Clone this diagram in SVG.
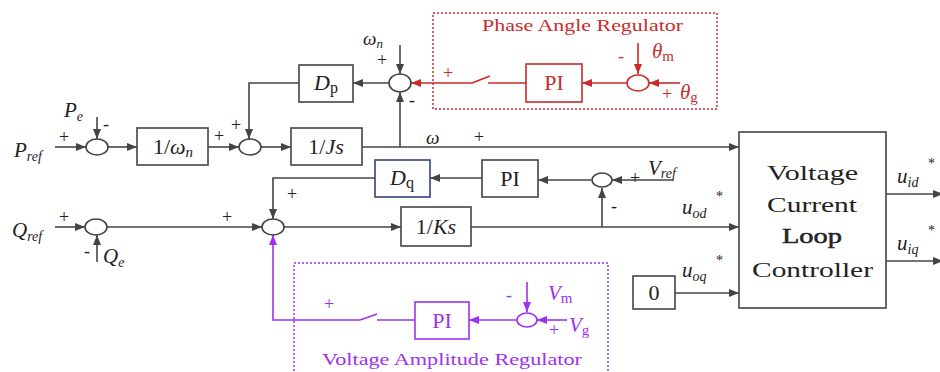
<svg xmlns="http://www.w3.org/2000/svg" width="940" height="372" viewBox="0 0 940 372">
<style>
.ln{fill:none;stroke:#444;stroke-width:1.6}
.lr{fill:none;stroke:#cc2a2a;stroke-width:1.6}
.lp{fill:none;stroke:#a030f0;stroke-width:1.6}
.box{fill:#fff;stroke:#444;stroke-width:1.6}
.sum{fill:#fff;stroke:#444;stroke-width:1.6}
.t{font-family:"Liberation Serif",serif;fill:#222}
.i{font-style:italic}
.big{font-size:21px}
.pm{font-family:"Liberation Serif",serif;font-size:18px;fill:#222}
.red{fill:#cc2a2a}
.pur{fill:#a030f0}
</style>
<defs>
<marker id="ag" markerUnits="userSpaceOnUse" markerWidth="10" markerHeight="8" refX="10" refY="4" orient="auto"><path d="M0,0 L10,4 L0,8 z" fill="#444"/></marker>
<marker id="ar" markerUnits="userSpaceOnUse" markerWidth="10" markerHeight="8" refX="10" refY="4" orient="auto"><path d="M0,0 L10,4 L0,8 z" fill="#cc2a2a"/></marker>
<marker id="ap" markerUnits="userSpaceOnUse" markerWidth="10" markerHeight="8" refX="10" refY="4" orient="auto"><path d="M0,0 L10,4 L0,8 z" fill="#a030f0"/></marker>
</defs>
<rect width="940" height="372" fill="#fff"/>

<g id="phase-frame">
<rect x="433" y="13" width="284" height="96" fill="none" stroke="#cc2a2a" stroke-width="1.5" stroke-dasharray="2,2"/>
<text x="482" y="31" class="t red" font-size="17" textLength="201" lengthAdjust="spacingAndGlyphs">Phase Angle Regulator</text>
</g>
<g id="voltage-frame">
<rect x="294" y="263" width="314" height="120" fill="none" stroke="#a030f0" stroke-width="1.5" stroke-dasharray="2,2"/>
<text x="322" y="365" class="t pur" font-size="17" textLength="260" lengthAdjust="spacingAndGlyphs">Voltage Amplitude Regulator</text>
</g>

<g id="connectors">
<path class="ln" d="M55,147 H86" marker-end="url(#ag)"/>
<path class="ln" d="M97,117 V139" marker-end="url(#ag)"/>
<path class="ln" d="M108,147 H137" marker-end="url(#ag)"/>
<path class="ln" d="M208,147 H239" marker-end="url(#ag)"/>
<path class="ln" d="M261,147 H291" marker-end="url(#ag)"/>
<path class="ln" d="M299,83 H249 V139" marker-end="url(#ag)"/>
<path class="ln" d="M389,83 H353" marker-end="url(#ag)"/>
<path class="ln" d="M400,45 V74" marker-end="url(#ag)"/>
<path class="ln" d="M362,147 H739" marker-end="url(#ag)"/>
<path class="ln" d="M400,147 V92" marker-end="url(#ag)"/>
<path class="ln" d="M673,180 H612" marker-end="url(#ag)"/>
<path class="ln" d="M591,180 H538" marker-end="url(#ag)"/>
<path class="ln" d="M482,178 H430" marker-end="url(#ag)"/>
<path class="ln" d="M375,178 H273 V219" marker-end="url(#ag)"/>
<path class="ln" d="M55,227 H85" marker-end="url(#ag)"/>
<path class="ln" d="M107,227 H262" marker-end="url(#ag)"/>
<path class="ln" d="M97,262 V235" marker-end="url(#ag)"/>
<path class="ln" d="M284,227 H401" marker-end="url(#ag)"/>
<path class="ln" d="M471,227 H739" marker-end="url(#ag)"/>
<path class="ln" d="M602,227 V188" marker-end="url(#ag)"/>
<path class="ln" d="M675,293 H739" marker-end="url(#ag)"/>
<path class="ln" d="M886,194 H943" marker-end="url(#ag)"/>
<path class="ln" d="M886,261 H943" marker-end="url(#ag)"/>
<path class="lr" d="M638,43 V74" marker-end="url(#ar)"/>
<path class="lr" d="M680,83 H649" marker-end="url(#ar)"/>
<path class="lr" d="M627,83 H582" marker-end="url(#ar)"/>
<path class="lr" d="M526,83 H488"/>
<path class="lr" d="M472,83 L490,76"/>
<path class="lr" d="M472,83 H411" marker-end="url(#ar)"/>
<path class="lp" d="M527,282 V312" marker-end="url(#ap)"/>
<path class="lp" d="M567,320 H537" marker-end="url(#ap)"/>
<path class="lp" d="M517,320 H469" marker-end="url(#ap)"/>
<path class="lp" d="M415,320 H377"/>
<path class="lp" d="M360,320 L377,314"/>
<path class="lp" d="M360,320 H273 V235" marker-end="url(#ap)"/>
</g>

<g id="sum1"><ellipse class="sum" cx="97" cy="147" rx="11" ry="8"/></g>
<g id="sum2"><ellipse class="sum" cx="250" cy="147" rx="11" ry="8"/></g>
<g id="sum3"><ellipse class="sum" cx="400" cy="83" rx="11" ry="9"/></g>
<g id="sum4"><ellipse class="sum" cx="273" cy="227" rx="11" ry="8"/></g>
<g id="sum5"><ellipse class="sum" cx="96" cy="227" rx="11" ry="8"/></g>
<g id="sum6"><ellipse class="sum" cx="602" cy="180" rx="10" ry="7"/></g>
<g id="sum7"><ellipse cx="638" cy="83" rx="11" ry="8" fill="#fff" stroke="#cc2a2a" stroke-width="1.6"/></g>
<g id="sum8"><ellipse cx="527" cy="320" rx="10" ry="7" fill="#fff" stroke="#a030f0" stroke-width="1.6"/></g>

<g id="inv-wn"><rect class="box" x="137" y="128" width="71" height="37"/>
<text x="173" y="154" text-anchor="middle" class="t" font-size="22">1/<tspan class="i">ω</tspan><tspan class="i" font-size="15" dy="3">n</tspan></text></g>
<g id="Dp"><rect class="box" x="299" y="65" width="54" height="37"/>
<text x="326" y="90" text-anchor="middle" class="t" font-size="22"><tspan class="i">D</tspan><tspan font-size="16" dy="3">p</tspan></text></g>
<g id="Js"><rect class="box" x="291" y="128" width="71" height="37"/>
<text x="326" y="154" text-anchor="middle" class="t" font-size="22">1/<tspan class="i">Js</tspan></text></g>
<g id="Dq"><rect x="375" y="160" width="55" height="37" fill="#fff" stroke="#33447a" stroke-width="1.6"/>
<text x="402" y="185" text-anchor="middle" class="t" font-size="22"><tspan class="i">D</tspan><tspan font-size="16" dy="3">q</tspan></text></g>
<g id="PIq"><rect class="box" x="482" y="160" width="56" height="37"/>
<text x="510" y="186" text-anchor="middle" class="t" font-size="22">PI</text></g>
<g id="Ks"><rect class="box" x="401" y="207" width="70" height="39"/>
<text x="436" y="234" text-anchor="middle" class="t" font-size="22">1/<tspan class="i">Ks</tspan></text></g>
<g id="zero"><rect class="box" x="633" y="276" width="42" height="33"/>
<text x="654" y="300" text-anchor="middle" class="t" font-size="22">0</text></g>
<g id="PIred"><rect x="526" y="64" width="56" height="38" fill="#fff" stroke="#cc2a2a" stroke-width="1.6"/>
<text x="554" y="90" text-anchor="middle" class="t red" font-size="22">PI</text></g>
<g id="PIpur"><rect x="415" y="302" width="54" height="37" fill="#fff" stroke="#a030f0" stroke-width="1.6"/>
<text x="442" y="328" text-anchor="middle" class="t pur" font-size="22">PI</text></g>
<g id="vclc"><rect class="box" x="739" y="132" width="147" height="176"/>
<text x="767" y="180" class="t" font-size="22" textLength="91" lengthAdjust="spacingAndGlyphs">Voltage</text>
<text x="767" y="212" class="t" font-size="22" textLength="90" lengthAdjust="spacingAndGlyphs">Current</text>
<text x="782" y="243" class="t" font-size="22" textLength="60" lengthAdjust="spacingAndGlyphs" stroke="#222" stroke-width="0.5">Loop</text>
<text x="752" y="277" class="t" font-size="22" textLength="121" lengthAdjust="spacingAndGlyphs">Controller</text></g>

<g id="labels">
<text x="14" y="157" class="t big i">P<tspan font-size="14" dy="4">ref</tspan></text>
<text x="64" y="117" class="t big i">P<tspan font-size="14" dy="4">e</tspan></text>
<text x="12" y="237" class="t big i">Q<tspan font-size="14" dy="4">ref</tspan></text>
<text x="103" y="263" class="t big i">Q<tspan font-size="14" dy="4">e</tspan></text>
<text x="363" y="45" class="t i" font-size="19">ω<tspan font-size="13" dy="3">n</tspan></text>
<text x="426" y="144" class="t i" font-size="19">ω</text>
<text x="648" y="175" class="t big i">V<tspan font-size="14" dy="3">ref</tspan></text>
<text x="682" y="214" class="t big i">u<tspan font-size="14" dy="4">od</tspan></text>
<text x="716" y="201" class="t" font-size="14">*</text>
<text x="682" y="277" class="t big i">u<tspan font-size="14" dy="4">oq</tspan></text>
<text x="716" y="265" class="t" font-size="14">*</text>
<text x="897" y="183" class="t big i">u<tspan font-size="14" dy="4">id</tspan></text>
<text x="928" y="168" class="t" font-size="14">*</text>
<text x="897" y="250" class="t big i">u<tspan font-size="14" dy="4">iq</tspan></text>
<text x="928" y="235" class="t" font-size="14">*</text>
<text x="652" y="58" class="t big i red">θ<tspan font-style="normal" font-size="15" dy="3">m</tspan></text>
<text x="680" y="99" class="t big i red">θ<tspan font-style="normal" font-size="15" dy="3">g</tspan></text>
<text x="548" y="300" class="t big i pur">V<tspan font-style="normal" font-size="15" dy="3">m</tspan></text>
<text x="569" y="332" class="t big i pur">V<tspan font-style="normal" font-size="15" dy="3">g</tspan></text>
<text x="59" y="143" class="pm">+</text>
<text x="103" y="130" class="pm">-</text>
<text x="214" y="142" class="pm">+</text>
<text x="231" y="131" class="pm">+</text>
<text x="377" y="66" class="pm">+</text>
<text x="409" y="106" class="pm">-</text>
<text x="474" y="143" class="pm">+</text>
<text x="59" y="223" class="pm">+</text>
<text x="84" y="257" class="pm">-</text>
<text x="222" y="223" class="pm">+</text>
<text x="287" y="200" class="pm">+</text>
<text x="630" y="184" class="pm">+</text>
<text x="611" y="212" class="pm">-</text>
<text x="443" y="79" class="pm red">+</text>
<text x="618" y="62" class="pm red">-</text>
<text x="662" y="100" class="pm red">+</text>
<text x="324" y="310" class="pm pur">+</text>
<text x="506" y="301" class="pm pur">-</text>
<text x="549" y="336" class="pm pur">+</text>
</g>
</svg>
